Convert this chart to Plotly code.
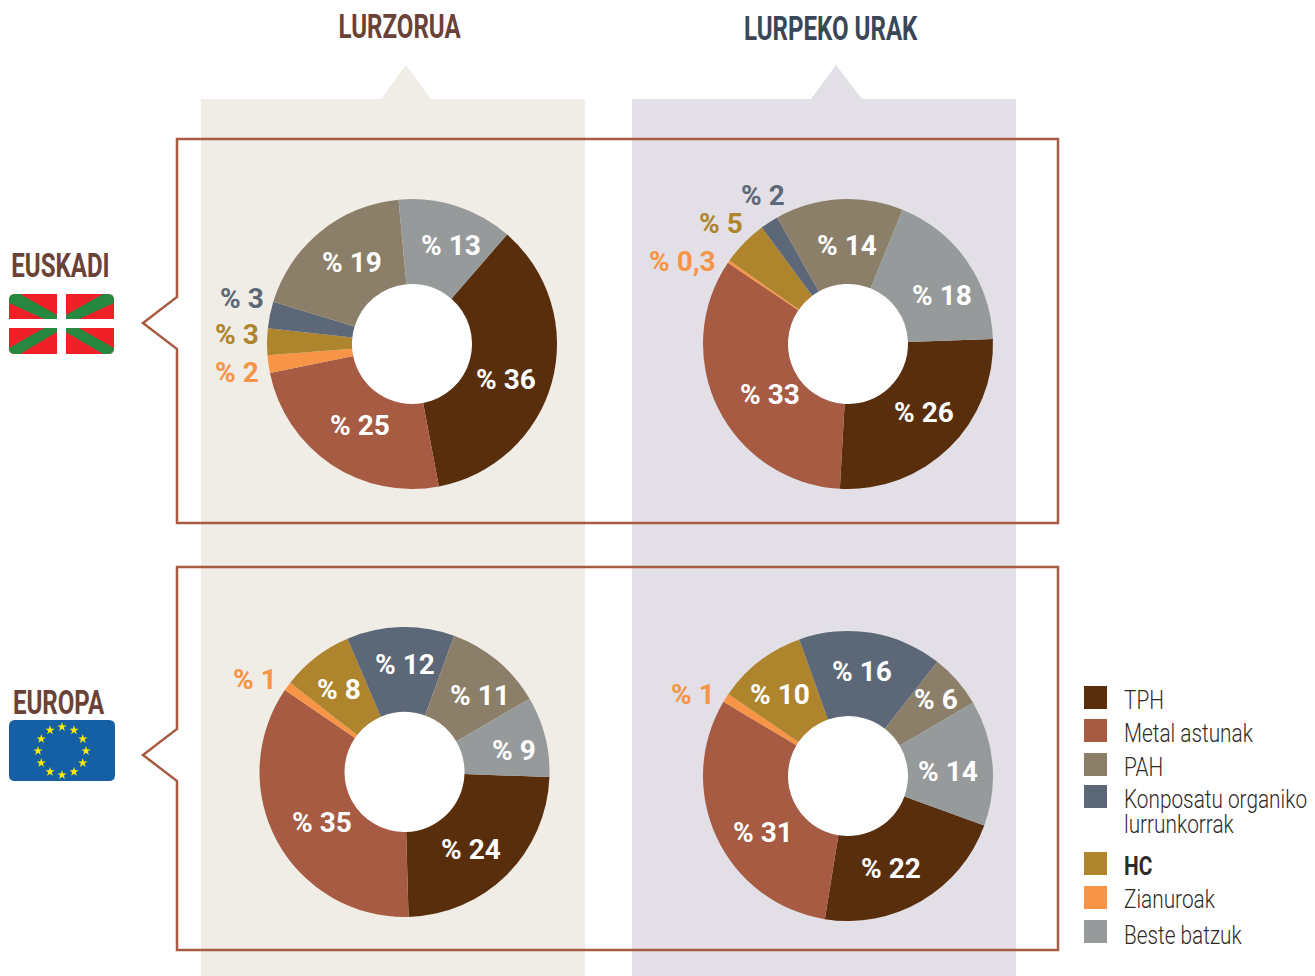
import math
import plotly.graph_objects as go

W, H = 1315, 976
categories = ["TPH", "Metal astunak", "Zianuroak", "HC", "Konposatu organiko lurrunkorrak", "PAH", "Beste batzuk"]
colors = ["#592e0c", "#a65b42", "#f79445", "#ae852c", "#5c6878", "#8c7f69", "#969a9b"]

euskadi_lurzorua = [36, 25, 2, 3, 3, 19, 13]
euskadi_lurpeko = [26, 33, 0.3, 5, 2, 14, 18]
europa_lurzorua = [24, 35, 1, 8, 12, 11, 9]
europa_lurpeko = [22, 31, 1, 10, 16, 6, 14]

FONT = "Roboto, sans-serif"
FRAME = "#a65b42"
BROWN = "#6b4237"
HOLE = 0.414

# Label centres per slice, in slice order
pos_euskadi_lurzorua = [(506, 379), (360, 425), (237, 372), (237, 334), (242, 298), (352, 262), (451, 245)]
pos_euskadi_lurpeko = [(924, 412), (770, 394), (682, 261), (721, 223), (763, 195), (847, 245), (942, 295)]
pos_europa_lurzorua = [(471, 849), (322, 822), (255, 679), (339, 689), (405, 664), (480, 695), (514, 750)]
pos_europa_lurpeko = [(891, 868), (763, 832), (693, 694), (780, 694), (862, 671), (936, 699), (948, 771)]

fig = go.Figure()
shapes = []
ann = []

def fmt(v):
    return "% " + str(v).replace(".", ",")

def text(s, x, y, size, color, bold=False, anchor="center", weight=None):
    ann.append(dict(text=s, x=x, y=y, xref="x", yref="y", showarrow=False, xanchor=anchor, yanchor="middle",
                    align=anchor,
                    font=dict(family=FONT, size=size, color=color,
                              weight=weight if weight else ("bold" if bold else "normal"))))

def add_pie(vals, cx, cy, r, rot, positions, outside):
    fig.add_trace(go.Pie(
        labels=categories, values=vals, sort=False, direction="clockwise", rotation=rot,
        hole=HOLE, textinfo="none",
        marker=dict(colors=colors, line=dict(width=0)), showlegend=False,
        domain=dict(x=[(cx - r) / W, (cx + r) / W], y=[1 - (cy + r) / H, 1 - (cy - r) / H]),
    ))
    hr = r * HOLE
    shapes.append(dict(type="circle", x0=cx - hr, x1=cx + hr, y0=cy - hr, y1=cy + hr, xref="x", yref="y",
                       fillcolor="white", line=dict(width=0), layer="below"))
    for i, (v, (x, y)) in enumerate(zip(vals, positions)):
        text(fmt(v), x, y, 28, colors[i] if i in outside else "white", bold=True)

# EU flag stars on hidden pixel axes
star_angles = list(range(0, 360, 30))
fig.add_trace(go.Scatter(
    x=[62 + 24 * math.sin(math.radians(a)) for a in star_angles],
    y=[751 - 24 * math.cos(math.radians(a)) for a in star_angles],
    mode="markers", marker=dict(symbol="star", size=7, color="#ffed00", line=dict(width=0)),
    showlegend=False, hoverinfo="skip"))

def path(d, fill=None, line=None, lw=0, layer="below"):
    shapes.append(dict(type="path", path=d, xref="x", yref="y", layer=layer,
                       fillcolor=fill if fill else "rgba(0,0,0,0)",
                       line=dict(color=line if line else "rgba(0,0,0,0)", width=lw)))

# Column backgrounds
path("M201,976 L201,99 L381,99 L406,65 L431,99 L585,99 L585,976 Z", fill="#f0ece6")
path("M632,976 L632,99 L811,99 L836,65 L862,99 L1016,99 L1016,976 Z", fill="#e2e0e6")
# Frames with callouts
path("M177,139 L1058,139 L1058,523 L177,523 L177,349 L143,323 L177,297 Z", line=FRAME, lw=2.5)
path("M177,567 L1058,567 L1058,950 L177,950 L177,781 L143,755 L177,729 Z", line=FRAME, lw=2.5)
# Basque flag
RED, GREEN = "#ef2028", "#26893f"
path("M15,294 L57,294 L57,319 L9,319 L9,300 Q9,294 15,294 Z", fill=RED)
path("M66,294 L108,294 Q114,294 114,300 L114,319 L66,319 Z", fill=RED)
path("M9,328 L57,328 L57,354 L15,354 Q9,354 9,348 Z", fill=RED)
path("M66,328 L114,328 L114,348 Q114,354 108,354 L66,354 Z", fill=RED)
path("M20,294 L57,315 L57,319 L44,319 L9,303 L9,300 Q9,294 15,294 Z", fill=GREEN)
path("M103,294 L66,315 L66,319 L79,319 L114,303 L114,300 Q114,294 108,294 Z", fill=GREEN)
path("M20,354 L57,332 L57,328 L44,328 L9,348 Q9,354 15,354 Z", fill=GREEN)
path("M103,354 L66,332 L66,328 L79,328 L114,348 Q114,354 108,354 Z", fill=GREEN)
# EU flag
path("M15,720 L109,720 Q115,720 115,726 L115,775 Q115,781 109,781 L15,781 Q9,781 9,775 L9,726 Q9,720 15,720 Z", fill="#1560a5")

add_pie(euskadi_lurzorua, 412, 344, 145, 41, pos_euskadi_lurzorua, {2, 3, 4})
add_pie(euskadi_lurpeko, 848, 344, 145, 88, pos_euskadi_lurpeko, {2, 3, 4})
add_pie(europa_lurzorua, 404.5, 772, 145, 92, pos_europa_lurzorua, {2})
add_pie(europa_lurpeko, 848, 776, 145, 110, pos_europa_lurpeko, {2})

# Legend
legend_rows = [("TPH", "#592e0c", 686, 700), ("Metal astunak", "#a65b42", 719, 733), ("PAH", "#8c7f69", 753, 767),
               ("Konposatu organiko<br>lurrunkorrak", "#5c6878", 785, 816), ("HC", "#ae852c", 852, 866),
               ("Zianuroak", "#f79445", 886, 899), ("Beste batzuk", "#969a9b", 920, 935)]
for name, col, y, ty in legend_rows:
    shapes.append(dict(type="rect", x0=1084, x1=1107, y0=y, y1=y + 23, xref="x", yref="y",
                       fillcolor=col, line=dict(width=0), layer="below"))
    text(name, 1122, ty, 26, "#2d2a2b", bold=name == "HC", anchor="left", weight=None if name == "HC" else 300)

# Titles
text("LURZORUA", 400, 26, 33, BROWN, bold=True)
text("LURPEKO URAK", 831, 28, 33, "#3a4757", bold=True)
text("EUSKADI", 60, 265, 33, BROWN, bold=True)
text("EUROPA", 59, 702, 33, BROWN, bold=True)

fig.update_layout(
    width=W, height=H, margin=dict(l=0, r=0, t=0, b=0), paper_bgcolor="white", plot_bgcolor="rgba(0,0,0,0)",
    xaxis=dict(range=[0, W], visible=False, fixedrange=True),
    yaxis=dict(range=[H, 0], visible=False, fixedrange=True),
    shapes=shapes, annotations=ann, showlegend=False,
)

# No page margin; narrow the title and legend text, which the source sets in a condensed face,
# and tighten the two-line legend entry
post = """
document.body.style.margin = '0';
var factors = {'33px': 0.73, '26px': 0.80};
document.querySelectorAll('.annotation-text').forEach(function (el) {
  var f = factors[el.style.fontSize];
  if (f) {
    var x = parseFloat(el.getAttribute('x')) || 0;
    el.setAttribute('transform', 'translate(' + x + ',0) scale(' + f + ',1) translate(' + (-x) + ',0)');
    var lines = el.querySelectorAll('tspan.line');
    if (lines.length > 1) { lines[1].setAttribute('dy', '0.96em'); }
  }
});
"""
fig.write_html("out.html", config=dict(displayModeBar=False), post_script=post)
